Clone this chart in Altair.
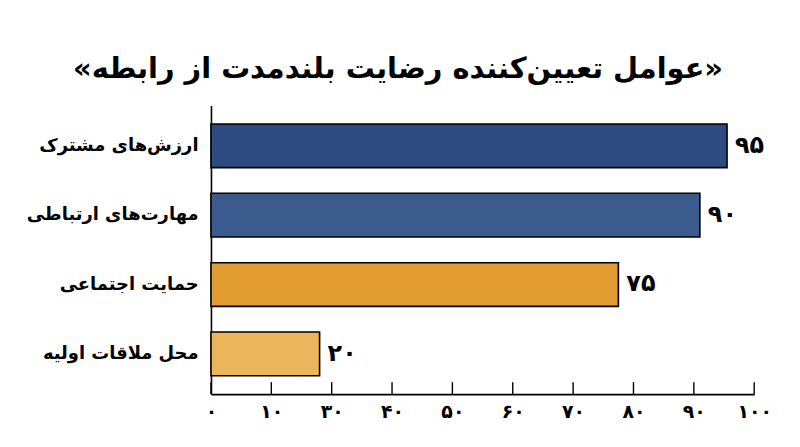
import altair as alt
import pandas as pd

# ---- data ----
categories = ["ارزش‌های مشترک", "مهارت‌های ارتباطی", "حمایت اجتماعی", "محل ملاقات اولیه"]
values = [95, 90, 75, 20]
value_labels = ["۹۵", "۹۰", "۷۵", "۲۰"]
bar_colors = ["#2d4b80", "#3b5b8f", "#e29b31", "#ebb55a"]
tick_labels = ["۰", "۱۰", "۳۰", "۴۰", "۵۰", "۶۰", "۷۰", "۸۰", "۹۰", "۱۰۰"]
title_text = "«عوامل تعیین‌کننده رضایت بلندمدت از رابطه»"

FONT = "DejaVu Sans"
W, H = 546, 290

df = pd.DataFrame({"category": categories, "value": values,
                   "label": value_labels, "color": bar_colors})
n = len(tick_labels)
tick_values = [i * 100 / (n - 1) for i in range(n)]
ticks_df = pd.DataFrame({"t": tick_values})
label_expr = "[" + ",".join(f"'{t}'" for t in tick_labels) + f"][round(datum.value*{n-1}/100)]"

xscale = alt.Scale(domain=[0, 100], nice=False, zero=True)
yscale = alt.Scale(paddingInner=0.37, paddingOuter=0.265)

base = alt.Chart(df)

bars = base.mark_bar(stroke="black", strokeWidth=1.6, cornerRadius=0).encode(
    x=alt.X("value:Q", scale=xscale,
            axis=alt.Axis(values=tick_values, labelExpr=label_expr, title=None,
                          tickSize=0, grid=False, domainColor="black", domainWidth=1.6,
                          labelFont=FONT, labelFontSize=19, labelFontWeight="bold",
                          labelColor="black", labelPadding=8, labelFlush=False)),
    y=alt.Y("category:N", sort=categories, scale=yscale,
            axis=alt.Axis(title=None, ticks=False, domainColor="black", domainWidth=1.6,
                          labelFont=FONT, labelFontSize=18, labelFontWeight="bold",
                          labelColor="black", labelPadding=13, labelLimit=300)),
    color=alt.Color("color:N", scale=None),
)

texts = base.mark_text(align="left", baseline="middle", dx=8, font=FONT,
                       fontSize=24, fontWeight="bold", color="black").encode(
    x=alt.X("value:Q", scale=xscale),
    y=alt.Y("category:N", sort=categories, scale=yscale),
    text="label:N",
)

ticks = alt.Chart(ticks_df).mark_rule(color="black", strokeWidth=1.4).encode(
    x=alt.X("t:Q", scale=xscale),
    y=alt.value(H - 12),
    y2=alt.value(H),
)

chart = alt.layer(bars, texts, ticks).properties(
    width=W, height=H,
    title=alt.TitleParams(title_text, font=FONT, fontSize=29, fontWeight="bold",
                          color="black", anchor="middle", dx=-85, offset=22),
    autosize=alt.AutoSizeParams(type="none"),
    padding={"left": 204, "top": 97, "right": 38, "bottom": 40},
    background="white",
).configure_view(stroke=None)

chart.save("out.html", embed_options={"renderer": "svg", "actions": False})
